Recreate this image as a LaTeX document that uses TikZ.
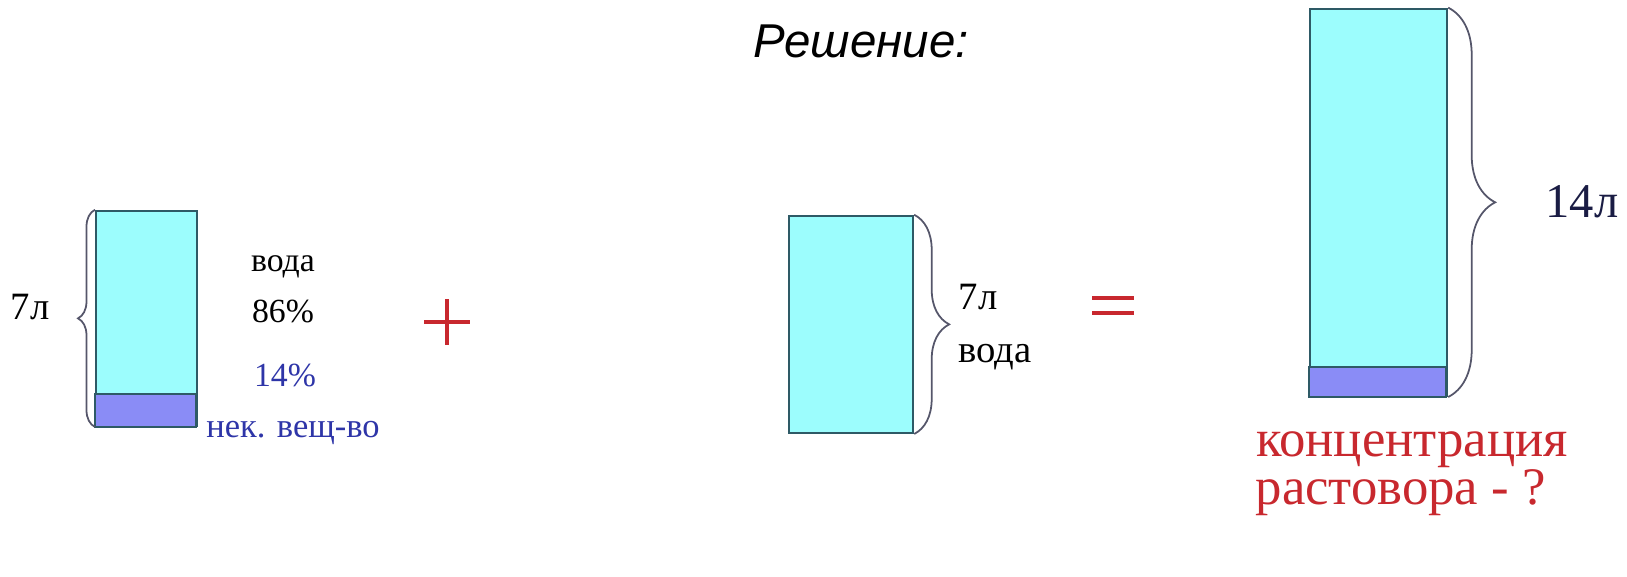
\documentclass[tikz,border=0pt]{standalone}
\usepackage{fontspec}
\setmainfont{Liberation Serif}
\newfontfamily\headfont{Liberation Sans}
\usetikzlibrary{positioning,decorations.pathreplacing,calc}
\definecolor{waterfill}{HTML}{9CFDFD}
\definecolor{substfill}{HTML}{8A8CF6}
\definecolor{tankline}{HTML}{2E5A66}
\definecolor{braceline}{HTML}{55566A}
\definecolor{bluetext}{HTML}{2E35A8}
\definecolor{redmark}{HTML}{C8282E}
\definecolor{navytext}{HTML}{1A1C44}
\tikzset{
  tank/.style={
    draw=tankline, fill=waterfill, line width=0.6pt,
    inner sep=0pt, anchor=south west
  },
  band/.style={draw=tankline, fill=substfill, line width=0.6pt},
  curly/.style={
    draw=braceline, line width=0.5pt,
    decorate, decoration={brace, amplitude=#1}
  },
  label/.style={inner sep=0pt, anchor=base, text=black},
  sign/.style={draw=redmark, line width=1pt}
}

\begin{document}
\begin{tikzpicture}[x=0.01cm, y=0.01cm]
  \useasboundingbox (0,0) rectangle (1627,577);

  % heading
  \node[label, font=\headfont\itshape\fontsize{13.5}{16}\selectfont] (head) at (861,519) {Решение:};

  % first solution
  \node[tank, minimum width=1.01cm, minimum height=2.15cm] (solA) at (95,150) {};
  \draw[band] (solA.south west) rectangle ++(101,33);
  \draw[curly=0.17cm] (solA.south west) -- (solA.north west);
  \node[label, anchor=base west, font=\fontsize{11}{13}\selectfont] (volA) at (10,257) {7л};
  \node[label, font=\fontsize{9.6}{12}\selectfont] (waterA) at (283,305) {вода};
  \node[label, font=\fontsize{9.6}{12}\selectfont] (pctA) at (283,254) {86\%};
  \node[label, text=bluetext, font=\fontsize{9.6}{12}\selectfont] (pctB) at (285,190) {14\%};
  \node[label, text=bluetext, font=\fontsize{9.8}{12}\selectfont] (subst) at (293,139) {нек. вещ-во};

  % plus
  \coordinate (plus) at (447,255);
  \draw[sign] ($(plus)+(-23,0)$) -- ($(plus)+(23,0)$);
  \draw[sign] ($(plus)+(0,-23)$) -- ($(plus)+(0,23)$);

  % added water
  \node[tank, minimum width=1.24cm, minimum height=2.17cm] (solW) at (788,143) {};
  \draw[curly=0.35cm] (solW.north east) -- (solW.south east);
  \node[label, anchor=base west, font=\fontsize{11}{13}\selectfont] (volW) at (958,267) {7л};
  \node[label, anchor=base west, font=\fontsize{11}{13}\selectfont] (waterW) at (958,214) {вода};

  % equals
  \coordinate (eq) at (1113,271);
  \draw[sign] ($(eq)+(-21,8)$) -- ($(eq)+(21,8)$);
  \draw[sign] ($(eq)+(-21,-7)$) -- ($(eq)+(21,-7)$);

  % mixture
  \node[tank, minimum width=1.37cm, minimum height=3.87cm] (mix) at (1309,180) {};
  \draw[band] (mix.south west) rectangle ++(137,30);
  \draw[curly=0.47cm] (mix.north east) -- (mix.south east);
  \node[label, anchor=base west, text=navytext, font=\fontsize{13.8}{16}\selectfont] (volM) at (1545,359) {14л};
  \node[label, text=redmark, font=\fontsize{15}{18}\selectfont] (conc) at (1412,120) {концентрация};
  \node[label, anchor=base west, text=redmark, font=\fontsize{15}{18}\selectfont] (quest) at (1255,72) {растовора - ?};
\end{tikzpicture}
\end{document}
